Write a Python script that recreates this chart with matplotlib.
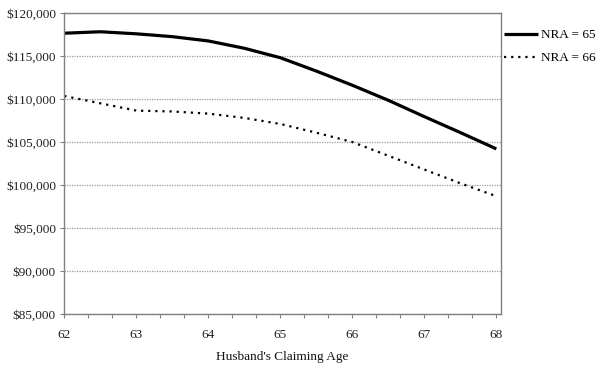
import matplotlib
matplotlib.use("Agg")
import matplotlib.pyplot as plt
from matplotlib.ticker import MultipleLocator, FuncFormatter

ages = [62, 62.5, 63, 63.5, 64, 64.5, 65, 65.5, 66, 66.5, 67, 67.5, 68]
nra65 = [117650, 117820, 117580, 117250, 116750, 115900, 114800, 113250,
         111600, 109850, 107950, 106100, 104200]
nra66 = [110350, 109500, 108650, 108550, 108300, 107800, 107100, 106080,
         105000, 103400, 101800, 100200, 98700]
series_labels = ["NRA = 65", "NRA = 66"]
x_label = "Husband's Claiming Age"

plt.rcParams['font.family'] = ['Liberation Serif', 'DejaVu Serif']

fig = plt.figure(figsize=(6.0, 3.69), dpi=100)
ax = fig.add_axes([64.3/600, 1-314/369, (501-64.3)/600, (314-13)/369])

ax.plot(ages, nra65, color='black', lw=2.3, label=series_labels[0],
        solid_capstyle='butt', solid_joinstyle='round')
ax.plot(ages, nra66, color='black', lw=1.6, linestyle=(0, (1, 2.2)),
        label=series_labels[1])

ax.set_xlim(62, 68.065)
ax.set_ylim(85000, 120000)
ax.yaxis.set_major_locator(MultipleLocator(5000))
ax.yaxis.set_major_formatter(FuncFormatter(lambda v, p: f"${v:,.0f}"))
ax.xaxis.set_major_locator(MultipleLocator(1))
ax.xaxis.set_minor_locator(MultipleLocator(1/3))
ax.xaxis.set_major_formatter(FuncFormatter(lambda v, p: f"{v:.0f}"))

ax.grid(axis='y', color='#9a9a9a', linestyle=(0, (1, 1)), lw=0.9)
ax.set_axisbelow(True)
for s in ax.spines.values():
    s.set_color('#808080')
    s.set_linewidth(1.0)

ax.tick_params(axis='y', which='major', length=3, width=0.8, color='#808080',
               labelsize=9.5, pad=3, labelcolor='#222222')
ax.tick_params(axis='x', which='both', length=3, width=0.8, color='#808080',
               labelsize=9.5, pad=8, labelcolor='#222222')

ax.set_xlabel(x_label, fontsize=9.5, labelpad=7, color='#111111')

leg = ax.legend(loc='upper left', bbox_to_anchor=(1.0, 0.955), frameon=False,
                fontsize=9.5, handlelength=2.6, handletextpad=0.25,
                labelspacing=0.8, borderaxespad=0.0, borderpad=0.2)

fig.savefig("out.png", dpi=100)
